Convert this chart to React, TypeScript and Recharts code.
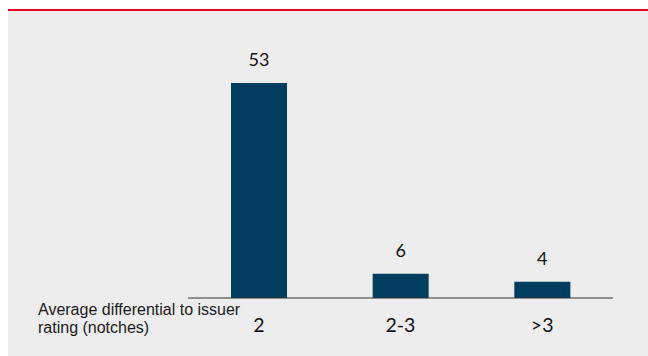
import React from 'react'
import { BarChart, Bar, XAxis, YAxis, LabelList } from 'recharts'

const BAR = '#003d5f'
const RED = '#e4002b'
const PANEL = '#ededed'
const INK = '#111111'

const categories = ['2', '2-3', '>3']
const counts = [53, 6, 4]

const data = categories.map((c, i) => ({ label: c, value: counts[i] }))

export default function App() {
  return (
    <div
      style={{
        position: 'absolute',
        left: 0,
        top: 0,
        width: 648,
        height: 356,
        background: '#ffffff',
        overflow: 'hidden',
      }}
    >
      <div style={{ position: 'absolute', left: 8, top: 9, width: 640, height: 2, background: RED }} />
      <div style={{ position: 'absolute', left: 8, top: 11, width: 640, height: 345, background: PANEL }} />
      <div style={{ position: 'absolute', left: 0, top: 0 }}>
        <BarChart
          width={648}
          height={356}
          data={data}
          margin={{ top: 83, right: 35, left: 188, bottom: 28 }}
        >
          <YAxis hide width={0} domain={[0, 53]} />
          <XAxis
            dataKey="label"
            height={30}
            axisLine={{ stroke: '#333333', strokeWidth: 1 }}
            tickLine={false}
            tickSize={0}
            tickMargin={20}
            tick={{ fill: INK, fontSize: 19.5, fontFamily: 'Lato, sans-serif' }}
          />
          <Bar dataKey="value" fill={BAR} barSize={56} isAnimationActive={false}>
            <LabelList
              dataKey="value"
              position="top"
              offset={17}
              fill={INK}
              fontSize={18}
              fontFamily="Lato, sans-serif"
            />
          </Bar>
        </BarChart>
      </div>
      <div
        style={{
          position: 'absolute',
          left: 38,
          top: 301,
          fontFamily: '"Liberation Sans", Arial, sans-serif',
          fontSize: 16,
          lineHeight: '18px',
          color: '#1a1a1a',
        }}
      >
        Average differential to issuer
        <br />
        rating (notches)
      </div>
    </div>
  )
}
